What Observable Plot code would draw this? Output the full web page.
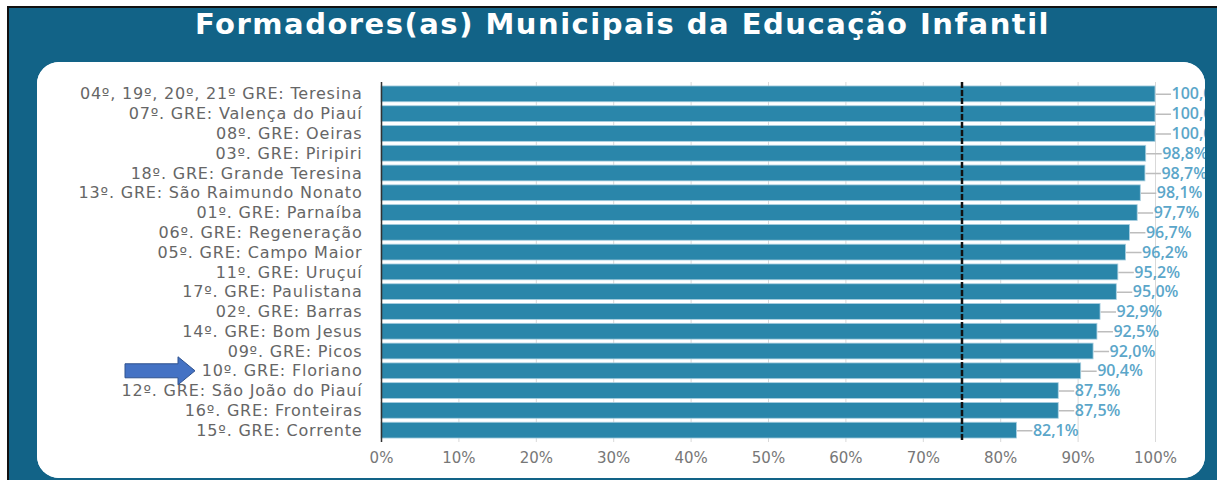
<!DOCTYPE html>
<html>
<head>
<meta charset="utf-8">
<script src="https://cdn.jsdelivr.net/npm/d3@7"></script>
<script src="https://cdn.jsdelivr.net/npm/@observablehq/plot@0.6"></script>
<style>
  html, body { margin: 0; padding: 0; background: #ffffff; }
  body { width: 1217px; height: 480px; position: relative; overflow: hidden; font-family: "DejaVu Sans", sans-serif; }
  #frame { position: absolute; left: 7px; top: 6px; right: 0; bottom: 0; background: #126387; border-top: 2px solid #111; border-left: 2px solid #111; }
  #title { position: absolute; left: 14px; top: 8px; width: 1217px; text-align: center; color: #fff; font-family: "DejaVu Sans", sans-serif; font-weight: bold; font-size: 29px; letter-spacing: 1.5px; line-height: 32px; }
  #panel { position: absolute; left: 37px; top: 62px; width: 1168px; height: 416px; background: #fff; border-radius: 22px; overflow: hidden; }
  #panel svg { display: block; }
  .ylab text { letter-spacing: 0.8px; }
</style>
</head>
<body>
<div id="frame"></div>
<div id="title">Formadores(as) Municipais da Educação Infantil</div>
<div id="panel"></div>
<script>
const names = [
  "04º, 19º, 20º, 21º GRE: Teresina",
  "07º. GRE: Valença do Piauí",
  "08º. GRE: Oeiras",
  "03º. GRE: Piripiri",
  "18º. GRE: Grande Teresina",
  "13º. GRE: São Raimundo Nonato",
  "01º. GRE: Parnaíba",
  "06º. GRE: Regeneração",
  "05º. GRE: Campo Maior",
  "11º. GRE: Uruçuí",
  "17º. GRE: Paulistana",
  "02º. GRE: Barras",
  "14º. GRE: Bom Jesus",
  "09º. GRE: Picos",
  "10º. GRE: Floriano",
  "12º. GRE: São João do Piauí",
  "16º. GRE: Fronteiras",
  "15º. GRE: Corrente"
];
const values = [100, 100, 100, 98.8, 98.7, 98.1, 97.7, 96.7, 96.2, 95.2, 95.0, 92.9, 92.5, 92.0, 90.4, 87.5, 87.5, 82.1];
const xTicks = [0, 10, 20, 30, 40, 50, 60, 70, 80, 90, 100];
const targetValue = 75;
const highlighted = "10º. GRE: Floriano";

const data = names.map((name, i) => ({name, value: values[i]}));
const fmt = v => d3.format(".1f")(v).replace(".", ",") + "%";

const arrowMark = (index, scales) => {
  const yc = scales.y(highlighted) + scales.y.bandwidth() / 2;
  const x0 = 88, x1 = 141, x2 = 158;
  const ns = "http://www.w3.org/2000/svg";
  const p = document.createElementNS(ns, "path");
  p.setAttribute("d", `M${x0},${yc-7} L${x1},${yc-7} L${x1},${yc-14} L${x2},${yc} L${x1},${yc+14} L${x1},${yc+7} L${x0},${yc+7} Z`);
  p.setAttribute("fill", "#4472c4");
  p.setAttribute("stroke", "#2f528f");
  p.setAttribute("stroke-width", "1");
  return p;
};

const chart = Plot.plot({
  width: 1168,
  height: 416,
  marginLeft: 344,
  marginRight: 50,
  marginTop: 20,
  marginBottom: 36,
  style: { fontFamily: "DejaVu Sans, sans-serif", fontSize: "15px", color: "#6b6b6b", background: "#fff", overflow: "hidden" },
  x: { domain: [0, 100], ticks: xTicks, tickFormat: d => d + "%", label: null },
  y: { domain: names, padding: 0.2, round: false, label: null },
  marks: [
    Plot.gridX(xTicks, { stroke: "#d9d9d9", strokeOpacity: 1, strokeWidth: 1 }),
    Plot.link(data, { x1: "value", x2: d => d.value + 2, y1: "name", y2: "name", stroke: "#bdbdbd", strokeWidth: 1.5 }),
    Plot.barX(data, { x: "value", y: "name", fill: "#2a86aa", stroke: "#a9cfe0", strokeWidth: 0.8 }),
    Plot.ruleX([0], { stroke: "#333", strokeWidth: 1.5 }),
    Plot.ruleX([targetValue], { stroke: "#111", strokeWidth: 2.5, strokeDasharray: "6,2" }),
    Plot.text(data, { x: "value", y: "name", text: d => fmt(d.value), dx: 16, textAnchor: "start", fill: "#5ba6c9", fontSize: 16, fontWeight: 600, fontFamily: "Open Sans, sans-serif" }),
    Plot.axisY({ tickSize: 0, tickPadding: 19, fontSize: 16, fill: "#666", className: "ylab" }),
    Plot.axisX({ ticks: xTicks, tickFormat: d => d + "%", tickSize: 0, tickPadding: 10, fontSize: 15, fill: "#777" }),
    arrowMark
  ]
});
document.getElementById("panel").appendChild(chart);
</script>
</body>
</html>
